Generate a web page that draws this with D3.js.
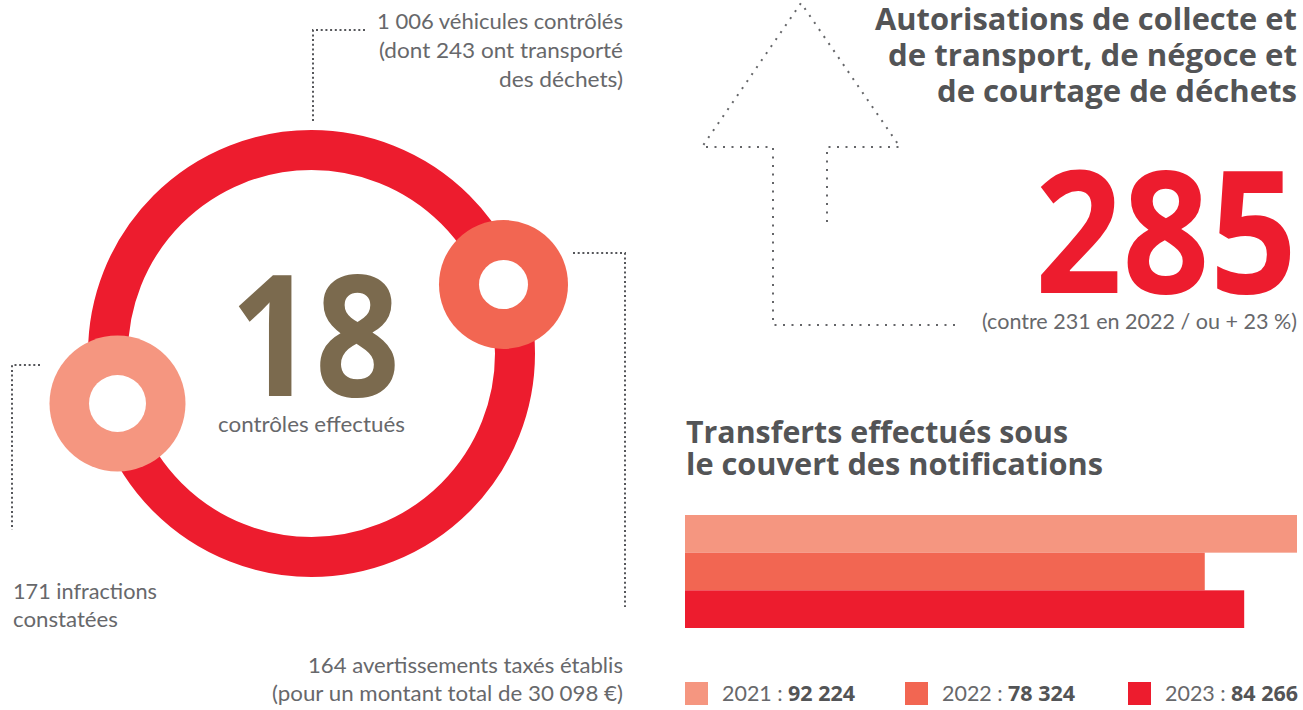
<!DOCTYPE html>
<html><head><meta charset="utf-8">
<script src="https://cdn.jsdelivr.net/npm/d3@7"></script>
<style>
html,body{margin:0;padding:0;background:#fff;}
svg{display:block;}
</style></head>
<body>
<svg id="chart" width="1303" height="710"></svg>
<script>
// ---- data ----
const years = ["2021", "2022", "2023"];
const transfers = [92224, 78324, 84266];
const barColors = ["#F59680", "#F26652", "#ED1C2E"];
const controlsCount = 18;
const authorisations = 285;
const authorisationsPrev = 231;
const ringNotes = ["1 006 véhicules contrôlés", "(dont 243 ont transporté", "des déchets)"];
const infractionsNote = ["171 infractions", "constatées"];
const warningsNote = ["164 avertissements taxés établis", "(pour un montant total de 30 098 €)"];
const authTitle = ["Autorisations de collecte et", "de transport, de négoce et", "de courtage de déchets"];
const transferTitle = ["Transferts effectués sous", "le couvert des notifications"];

const fr = d3.formatLocale({decimal: ",", thousands: "\u00a0", grouping: [3], currency: ["", " €"]});
const fmt = fr.format(",d");

const svg = d3.select("#chart");
const LIGHT = "Lato, 'Open Sans', sans-serif";
const BOLD = "'Open Sans', Lato, sans-serif";
const gray = "#67686B";
const dark = "#535456";
const dotCol = "#55565A";

function txt(x, y, s, o) {
  const t = svg.append("text").attr("x", x).attr("y", y).text(s)
    .attr("font-family", o.family || LIGHT)
    .attr("font-weight", o.weight || 400)
    .attr("font-size", o.size || 21)
    .attr("fill", o.fill || gray);
  if (o.len) t.attr("textLength", o.len).attr("lengthAdjust", "spacingAndGlyphs");
  return t;
}
function rtxt(right, y, s, len, o) { return txt(right - len, y, s, Object.assign({len: len}, o)); }

// ---- dotted connectors ----
const line = d3.line();
const dotted = (pts, dash, w, col) => svg.append("path").attr("d", line(pts)).attr("fill", "none")
  .attr("stroke", col || dotCol).attr("stroke-width", w || 2).attr("stroke-dasharray", dash);

dotted([[365, 30], [313, 30], [313, 123]], "2,2.7");
dotted([[573, 253], [625, 253], [625, 607]], "2,2.7");
dotted([[40, 365], [12, 365], [12, 530]], "2,2.7");
// arrow
dotted([[955, 325], [773, 325], [773, 147], [702, 147], [801, 3], [900, 147], [827, 147], [827, 227]], "2,6.5", 2, "#646568");

// ---- ring ----
const cx = 311.5, cy = 353.5, rMid = 203.5;
svg.append("circle").attr("cx", cx).attr("cy", cy).attr("r", rMid)
  .attr("fill", "none").attr("stroke", barColors[2]).attr("stroke-width", 40);

const knobs = [
  {x: 503.5, y: 284.5, r: 64.5, ri: 24.5, c: barColors[1]},
  {x: 117.5, y: 403.5, r: 68, ri: 28.5, c: barColors[0]}
];
knobs.forEach(k => {
  svg.append("circle").attr("cx", k.x).attr("cy", k.y).attr("r", k.r).attr("fill", k.c);
  svg.append("circle").attr("cx", k.x).attr("cy", k.y).attr("r", k.ri).attr("fill", "#fff");
});

// center number
txt(230, 396, String(controlsCount), {family: BOLD, weight: 700, size: 168, fill: "#7B6A4E", len: 170});
txt(218, 432, "contrôles effectués", {size: 21, len: 187});

// ring notes
rtxt(623, 29, ringNotes[0], 246, {});
rtxt(623, 58, ringNotes[1], 244, {});
rtxt(623, 87, ringNotes[2], 124, {});
txt(13, 599, infractionsNote[0], {len: 144});
txt(13, 627, infractionsNote[1], {len: 105});
rtxt(623, 673, warningsNote[0], 315, {});
rtxt(623, 701, warningsNote[1], 351, {});

// ---- authorisations ----
const tb = {family: BOLD, weight: 700, size: 31, fill: dark};
rtxt(1297, 30, authTitle[0], 422, tb);
rtxt(1297, 66, authTitle[1], 409, tb);
rtxt(1297, 102, authTitle[2], 360, tb);
rtxt(1297, 293, String(authorisations), 262, {family: BOLD, weight: 700, size: 170, fill: "#ED1C2E"});
const pct = Math.round((authorisations - authorisationsPrev) / authorisationsPrev * 100);
rtxt(1297, 329, `(contre ${authorisationsPrev} en 2022 / ou + ${pct} %)`, 315, {});

// ---- transfers ----
txt(686, 443, transferTitle[0], Object.assign({}, tb, {size: 30, len: 382}));
txt(686, 475, transferTitle[1], Object.assign({}, tb, {size: 30, len: 417}));

const x = d3.scaleLinear().domain([0, d3.max(transfers)]).range([685, 1297]);
const y = d3.scaleBand().domain(years).range([515, 628]).padding(0);
svg.append("g").selectAll("rect").data(years).join("rect")
  .attr("x", x(0)).attr("y", d => y(d))
  .attr("width", (d, i) => x(transfers[i]) - x(0))
  .attr("height", y.bandwidth())
  .attr("fill", (d, i) => barColors[i]);

// legend
const legX = [685, 905, 1128];
years.forEach((yr, i) => {
  svg.append("rect").attr("x", legX[i]).attr("y", 682).attr("width", 23).attr("height", 23).attr("fill", barColors[i]);
  const t = svg.append("text").attr("x", legX[i] + 37).attr("y", 701)
    .attr("font-family", LIGHT).attr("font-size", 21).attr("fill", gray)
    .attr("textLength", 133).attr("lengthAdjust", "spacingAndGlyphs");
  t.append("tspan").attr("font-weight", 400).text(yr + " : ");
  t.append("tspan").attr("font-weight", 700).attr("font-family", BOLD).attr("fill", dark).text(fmt(transfers[i]));
});
</script>
</body></html>
